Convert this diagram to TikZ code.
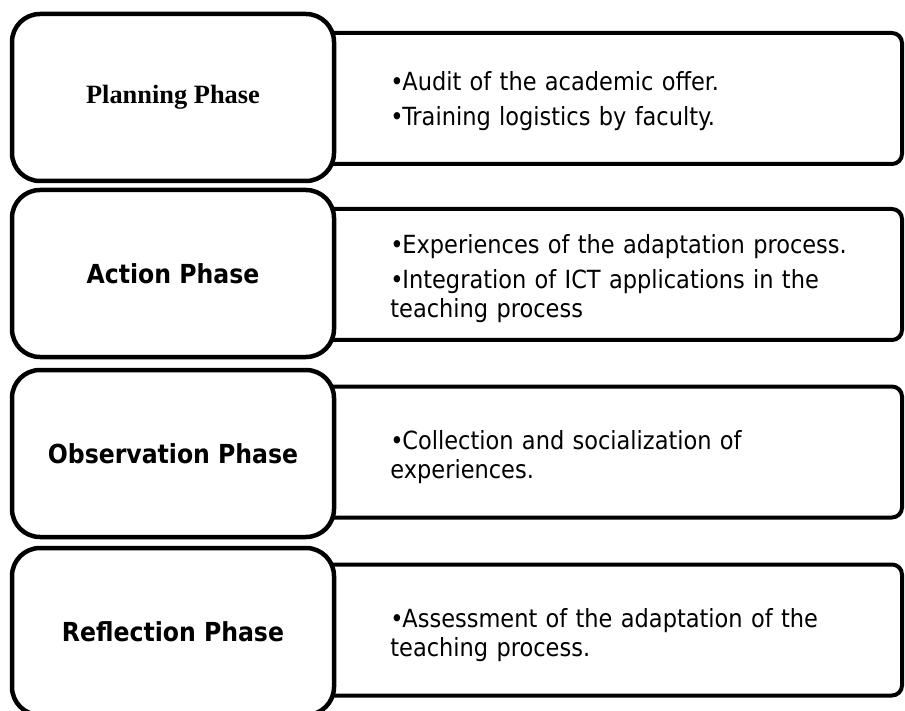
\documentclass[tikz,border=0pt]{standalone}
\usepackage{fontspec}
\setmainfont{DejaVu Sans Condensed}
\newfontfamily\serifbf{Liberation Serif}
\newcommand\bul{\par\hangindent=6pt\hangafter=1\noindent\makebox[6pt][l]{•}}
\pgfdeclarelayer{bg}
\pgfsetlayers{bg,main}

\begin{document}
\begin{tikzpicture}[x=0.5pt,y=-0.5pt,
  phase/.style={draw,line width=2.25pt,rounded corners=14pt,fill=white,
    minimum width=161pt,minimum height=83.5pt,font=\fontsize{13.1}{15}\selectfont\bfseries},
  detail/.style={draw,line width=2pt,rounded corners=5pt,fill=white,
    minimum width=326pt,minimum height=65.5pt},
  items/.style={anchor=west,inner sep=0,text width=245pt,align=left,
    font=\fontsize{12.5}{14.5}\selectfont\setlength\parskip{3pt}}]
\useasboundingbox (0,0) rectangle (905,711);

\node[phase] (plan) at (173,97.5) {\serifbf\fontsize{13.2}{15}\selectfont\bfseries Planning Phase};
\node[phase] (act)  at (173,273.5) {Action Phase};
\node[phase] (obs)  at (173,453.5) {Observation Phase};
\node[phase] (refl) at (173,631.5) {Reflection Phase};

\node[items] (plantxt) at (390,93)
  {\bul Audit of the academic offer.\bul Training logistics by faculty.};
\node[items] (acttxt) at (390,271)
  {\bul Experiences of the adaptation process.\bul Integration of ICT applications in the\\teaching process};
\node[items] (obstxt) at (390,449)
  {\bul Collection and socialization of\\experiences.};
\node[items] (refltxt) at (390,627)
  {\bul Assessment of the adaptation of the\\teaching process.};

\begin{pgfonlayer}{bg}
  \node[detail] (plandet) at (576,98.5) {};
  \node[detail] (actdet)  at (576,274.5) {};
  \node[detail] (obsdet)  at (576,452) {};
  \node[detail] (refldet) at (576,630) {};
\end{pgfonlayer}
\end{tikzpicture}
\end{document}
